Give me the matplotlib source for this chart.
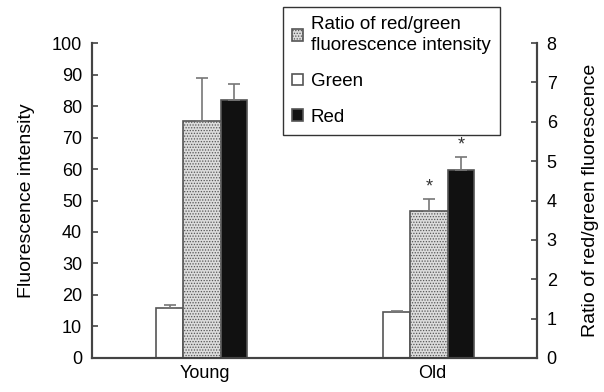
import matplotlib
matplotlib.use("Agg")
import matplotlib.pyplot as plt
import numpy as np

# Data
groups = ["Young", "Old"]
green = [15.9, 14.6]
green_err = [0.9, 0.3]
red = [81.9, 59.7]
red_err = [5.1, 4.1]
ratio = [6.02, 3.73]
ratio_err = [1.09, 0.31]
ratio_sig = [False, True]
red_sig = [False, True]

plt.rcParams['font.family'] = ['Liberation Sans', 'DejaVu Sans']
plt.rcParams['hatch.linewidth'] = 0.6

edge = '#555555'
x = np.arange(len(groups))

fig = plt.figure(figsize=(6.04, 3.92), dpi=100)
ax = fig.add_axes([0.152, 0.087, 0.737, 0.803])
ax2 = ax.twinx()

err_kw = dict(ecolor='#777777', elinewidth=1.2, capsize=4, capthick=1.2)

# green (white) and red (black) on left axis, ratio (stippled) on right axis
b_green = ax.bar(x - 0.216, green, width=0.119, align='edge', color='white',
                 edgecolor=edge, linewidth=1.2,
                 yerr=[np.zeros(2), green_err], error_kw=err_kw)
b_red = ax.bar(x + 0.070, red, width=0.115, align='edge', color='#111111',
               edgecolor=edge, linewidth=1.2,
               yerr=[np.zeros(2), red_err], error_kw=err_kw)
b_ratio = ax2.bar(x - 0.097, ratio, width=0.167, align='edge', color='#dcdcdc',
                  edgecolor=edge, linewidth=1.2, hatch='......',
                  yerr=[np.zeros(2), ratio_err], error_kw=err_kw)

# significance markers
for i in range(len(groups)):
    if ratio_sig[i]:
        ax2.text(x[i] - 0.097 + 0.167 / 2, ratio[i] + ratio_err[i] + 0.1, '*',
                 ha='center', va='bottom', fontsize=13, color='#333333')
    if red_sig[i]:
        ax.text(x[i] + 0.070 + 0.115 / 2, red[i] + red_err[i] + 1.2, '*',
                ha='center', va='bottom', fontsize=13, color='#333333')

ax.set_xlim(-0.5, 1.46)
ax.set_ylim(0, 100)
ax2.set_ylim(0, 8)
ax.set_yticks(range(0, 101, 10))
ax2.set_yticks(range(0, 9))
ax.set_xticks(x)
ax.set_xticklabels(groups, fontsize=13)
ax.tick_params(axis='x', length=0, pad=5)
ax.tick_params(axis='y', direction='in', length=4, width=1.2, colors='#444444',
               labelcolor='black', labelsize=13, pad=7)
ax2.tick_params(axis='y', direction='in', length=4, width=1.2, colors='#444444',
                labelcolor='black', labelsize=13, pad=7)

for a in (ax, ax2):
    a.spines['top'].set_visible(False)
    for s in ('left', 'right', 'bottom'):
        a.spines[s].set_color('#444444')
        a.spines[s].set_linewidth(1.5)

ax.set_ylabel("Fluorescence intensity", fontsize=14, labelpad=12)
ax2.set_ylabel("Ratio of red/green fluorescence", fontsize=14, labelpad=18)

leg = fig.legend([b_ratio, b_green, b_red],
                 ["Ratio of red/green\nfluorescence intensity", "Green", "Red"],
                 loc='upper left', bbox_to_anchor=(0.468, 0.982),
                 fontsize=13.5, frameon=True, fancybox=False,
                 handlelength=0.6, handleheight=0.6, handletextpad=0.4,
                 borderpad=0.5, labelspacing=1.0, borderaxespad=0)
leg.get_frame().set_edgecolor('black')
leg.get_frame().set_linewidth(1.0)
for t in leg.get_texts():
    t.set_linespacing(1.3)

fig.savefig("out.png", dpi=100)
